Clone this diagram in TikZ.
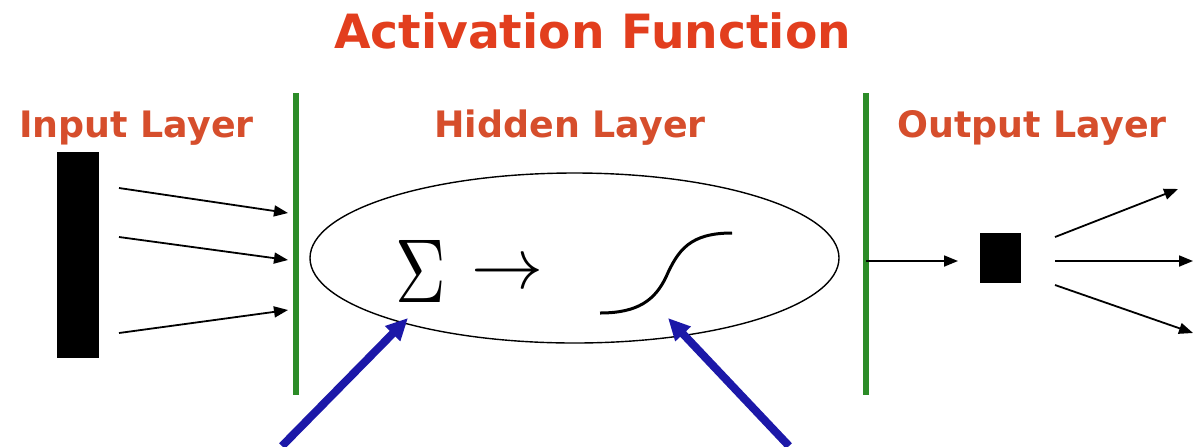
\documentclass[tikz,border=0pt]{standalone}
\usepackage{fontspec}
\newfontfamily\labfont{DejaVu Sans}
\usetikzlibrary{arrows.meta,shapes.geometric}
\definecolor{labred}{RGB}{214,78,44}
\definecolor{titlered}{RGB}{226,62,30}
\definecolor{lgreen}{RGB}{44,140,40}
\definecolor{dblue}{RGB}{28,24,168}
\begin{document}
\begin{tikzpicture}[x=0.5pt,y=-0.5pt,
  titletext/.style={anchor=base,inner sep=0,text=titlered,font=\labfont\bfseries\fontsize{23.6}{28}\selectfont},
  layer/.style={anchor=base,inner sep=0,text=labred,font=\labfont\bfseries\fontsize{18.2}{22}\selectfont},
  sepline/.style={draw=lgreen,line width=2.6pt},
  thinarrow/.style={line width=0.9pt,-{Triangle[length=7pt,width=5.5pt]}},
  pointer/.style={draw=dblue,line width=4pt,-{Triangle[length=11pt,width=10pt]}},
  block/.style={fill=black,inner sep=0,outer sep=0}]
\useasboundingbox (0,0) rectangle (1193,446);
\fill[white] (0,0) rectangle (1193,446);

% labels
\node[titletext] (title) at (592.5,48) {Activation Function};
\node[layer] (inlab) at (136.5,137) {Input Layer};
\node[layer] (hidlab) at (570,137) {Hidden Layer};
\node[layer] (outlab) at (1032,137) {Output Layer};

% separators
\coordinate (g1t) at (296,93);
\coordinate (g1b) at (296,395);
\coordinate (g2t) at (866,93);
\coordinate (g2b) at (866,395);
\draw[sepline] (g1t) -- (g1b);
\draw[sepline] (g2t) -- (g2b);

% input layer
\node[block,minimum width=21pt,minimum height=103pt] (inbar) at (78,255) {};
\coordinate (a1s) at (119,188); \coordinate (a1e) at (288,213);
\coordinate (a2s) at (119,237); \coordinate (a2e) at (288,260);
\coordinate (a3s) at (119,333); \coordinate (a3e) at (288,310);
\draw[thinarrow] (a1s) -- (a1e);
\draw[thinarrow] (a2s) -- (a2e);
\draw[thinarrow] (a3s) -- (a3e);

% hidden layer
\node[draw,ellipse,line width=0.7pt,minimum width=264.5pt,minimum height=85pt,inner sep=0] (hidden) at (574.5,258) {};
\node[anchor=base,inner sep=0] (sum) at (421,302) {\scalebox{3.5}[4.54]{$\Sigma$}};
\node[inner sep=0] (to) at (507,275) {\scalebox{3.6}{$\rightarrow$}};
\draw[line width=1.5pt] (600,313) .. controls (638,313) and (655,300) .. (666,277)
  .. controls (678,250) and (690,233) .. (732,233);

% pointers
\coordinate (b1s) at (282,446); \coordinate (b1e) at (408,318);
\coordinate (b2s) at (789,446); \coordinate (b2e) at (668,318);
\draw[pointer] (b1s) -- (b1e);
\draw[pointer] (b2s) -- (b2e);

% output layer
\coordinate (o0s) at (866,261); \coordinate (o0e) at (958,261);
\draw[thinarrow] (o0s) -- (o0e);
\node[block,minimum width=20.5pt,minimum height=25pt] (outsq) at (1000.5,258) {};
\coordinate (o1s) at (1055,237); \coordinate (o1e) at (1178,189);
\coordinate (o2s) at (1055,261); \coordinate (o2e) at (1193,261);
\coordinate (o3s) at (1055,285); \coordinate (o3e) at (1193,333);
\draw[thinarrow] (o1s) -- (o1e);
\draw[thinarrow] (o2s) -- (o2e);
\draw[thinarrow] (o3s) -- (o3e);
\end{tikzpicture}
\end{document}
